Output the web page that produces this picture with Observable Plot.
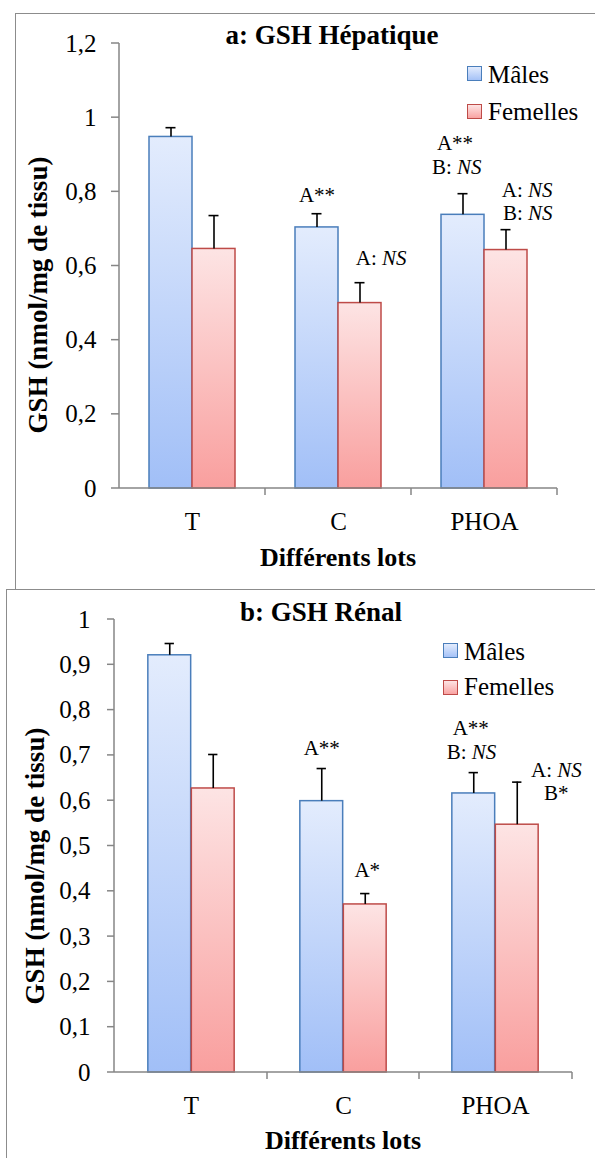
<!DOCTYPE html>
<html>
<head>
<meta charset="utf-8">
<script src="https://cdn.jsdelivr.net/npm/d3@7"></script>
<script src="https://cdn.jsdelivr.net/npm/@observablehq/plot@0.6"></script>
<style>
  html, body { margin: 0; padding: 0; background: white; overflow: hidden; }
  #page { position: relative; width: 595px; height: 1158px; overflow: hidden; font-family: "Liberation Serif", "Times New Roman", serif; color: black; }
  .frame { position: absolute; border: 1.5px solid #8c8c8c; box-sizing: border-box; }
  .abs { position: absolute; white-space: nowrap; line-height: 1; font-family: "Liberation Serif", serif; }
  .title { font-weight: bold; font-size: 27px; transform: translateX(-50%); }
  .xtitle { font-weight: bold; font-size: 26px; transform: translateX(-50%); }
  .ytitle { font-weight: bold; font-size: 27px; transform: translate(-50%, -50%) rotate(-90deg); }
  .leg { font-size: 25px; }
  .sw { position: absolute; width: 13px; height: 13px; }
  .sw.m { background: linear-gradient(#e3ecfd, #a5c2f7); border: 1.5px solid #4a7ebb; }
  .sw.f { background: linear-gradient(#fde4e4, #f9a3a2); border: 1.5px solid #be4b48; }
  .chart { position: absolute; left: 0; }
</style>
</head>
<body>
<div id="page">
  <div class="frame" style="left:15px; top:13px; width:600px; height:577px;"></div>
  <div class="frame" style="left:6px; top:589px; width:610px; height:600px;"></div>
  <div id="chartA" class="chart" style="top:0px;"></div>
  <div id="chartB" class="chart" style="top:590px;"></div>
</div>
<script>
// ---------- data ----------
const lots = ["T", "C", "PHOA"];
const sexes = ["Mâles", "Femelles"];

// a: GSH hépatique (nmol/mg de tissu)
const hepMales = [0.948, 0.704, 0.738];
const hepMalesSEM = [0.025, 0.037, 0.057];
const hepFemelles = [0.646, 0.500, 0.643];
const hepFemellesSEM = [0.090, 0.055, 0.055];
const hepTicks = [0, 0.2, 0.4, 0.6, 0.8, 1, 1.2];
const hepSignif = [
  ["C", "Mâles", "A**", ""],
  ["C", "Femelles", "A:", "NS"],
  ["PHOA", "Mâles", "A**", ""],
  ["PHOA", "Mâles", "B:", "NS"],
  ["PHOA", "Femelles", "A:", "NS"],
  ["PHOA", "Femelles", "B:", "NS"]
];

// b: GSH rénal (nmol/mg de tissu)
const renMales = [0.921, 0.599, 0.616];
const renMalesSEM = [0.026, 0.072, 0.046];
const renFemelles = [0.627, 0.371, 0.547];
const renFemellesSEM = [0.075, 0.024, 0.094];
const renTicks = [0, 0.1, 0.2, 0.3, 0.4, 0.5, 0.6, 0.7, 0.8, 0.9, 1];
const renSignif = [
  ["C", "Mâles", "A**", ""],
  ["C", "Femelles", "A*", ""],
  ["PHOA", "Mâles", "A**", ""],
  ["PHOA", "Mâles", "B:", "NS"],
  ["PHOA", "Femelles", "A:", "NS"],
  ["PHOA", "Femelles", "B*", ""]
];

const titles = ["a: GSH Hépatique", "b: GSH Rénal"];
const yTitle = "GSH (nmol/mg de tissu)";
const xTitle = "Différents lots";

// ---------- layout (pixels) ----------
const FONT = '"Liberation Serif", "Times New Roman", serif';
const layoutA = {width: 595, height: 588, ml: 119, mr: 38, mt: 43, mb: 100, barW: 43, tick: 8, pad: 15,
  place: [[0, -18], [21, -24], [-8, -50], [-7, -26], [21, -39], [21, -16]]};
const layoutB = {width: 595, height: 568, ml: 114, mr: 23, mt: 29, mb: 86, barW: 43.5, tick: 7, pad: 17,
  place: [[0, -20], [2, -23], [-3, -44], [-3, -20], [39, -12], [39, 11]]};

const fmt = d => String(d).replace(".", ",");

function rowsOf(males, malesSEM, femelles, femellesSEM) {
  const m = lots.map((lot, i) => ({lot, sexe: sexes[0], value: males[i], sem: malesSEM[i]}));
  const f = lots.map((lot, i) => ({lot, sexe: sexes[1], value: femelles[i], sem: femellesSEM[i]}));
  return [m, f];
}

function chart(id, males, malesSEM, femelles, femellesSEM, ticks, signif, L) {
  const [mRows, fRows] = rowsOf(males, malesSEM, femelles, femellesSEM);
  const all = mRows.concat(fRows);
  const bw = (L.width - L.ml - L.mr) / lots.length;
  const outer = (bw - 2 * L.barW) / 2;
  const half = L.barW / 2;
  const cap = 5;
  const axisColor = "#868686";

  const defs = () => {
    const g = d3.create("svg:defs");
    const mk = (gid, c0, c1) => {
      const lg = g.append("linearGradient").attr("id", gid).attr("x1", 0).attr("y1", 0).attr("x2", 0).attr("y2", 1);
      lg.append("stop").attr("offset", "0%").attr("stop-color", c0);
      lg.append("stop").attr("offset", "100%").attr("stop-color", c1);
    };
    mk(id + "-m", "#e3ecfd", "#a1bff7");
    mk(id + "-f", "#fde4e4", "#f99f9e");
    return g.node();
  };

  const axes = (index, scales, values, dims) => {
    const {x, y} = scales;
    const g = d3.create("svg:g").attr("stroke", axisColor).attr("stroke-width", 1.5).attr("fill", "none");
    const xl = dims.marginLeft, xr = dims.width - dims.marginRight;
    const y0 = y(0), yTop = y(d3.max(ticks));
    g.append("line").attr("x1", xl).attr("x2", xl).attr("y1", yTop).attr("y2", y0);
    for (const t of ticks) {
      g.append("line").attr("x1", xl - L.tick).attr("x2", xl).attr("y1", y(t)).attr("y2", y(t));
    }
    g.append("line").attr("x1", xl).attr("x2", xr).attr("y1", y0).attr("y2", y0);
    const bounds = lots.slice(1).map(l => x(l)).concat([xr]);
    for (const b of bounds) {
      g.append("line").attr("x1", b).attr("x2", b).attr("y1", y0).attr("y2", y0 + 7);
    }
    return g.node();
  };

  const top = d => d.value + d.sem;
  const marks = [
    defs,
    Plot.barY(mRows, {x: "lot", y: "value", fill: `url(#${id}-m)`, stroke: "#4a7ebb", strokeWidth: 1.5,
      insetLeft: outer, insetRight: outer + L.barW}),
    Plot.barY(fRows, {x: "lot", y: "value", fill: `url(#${id}-f)`, stroke: "#be4b48", strokeWidth: 1.5,
      insetLeft: outer + L.barW, insetRight: outer}),
    Plot.ruleX(mRows, {x: "lot", y1: "value", y2: top, dx: -half, stroke: "black", strokeWidth: 1.6}),
    Plot.ruleX(fRows, {x: "lot", y1: "value", y2: top, dx: half, stroke: "black", strokeWidth: 1.6}),
    Plot.tickY(mRows, {x: "lot", y: top, stroke: "black", strokeWidth: 1.6,
      insetLeft: bw / 2 - half - cap, insetRight: bw / 2 + half - cap}),
    Plot.tickY(fRows, {x: "lot", y: top, stroke: "black", strokeWidth: 1.6,
      insetLeft: bw / 2 + half - cap, insetRight: bw / 2 - half - cap}),
    axes
  ];

  signif.forEach(([lot, sexe, normal, italic], i) => {
    const row = all.find(r => r.lot === lot && r.sexe === sexe);
    const [adx, ady] = L.place[i];
    const cx = (sexe === sexes[0] ? -half : half) + adx;
    if (italic) {
      marks.push(Plot.text([row], {x: "lot", y: top, text: () => normal + "\u00a0", dx: cx + 1, dy: ady,
        textAnchor: "end", fontSize: 21, fill: "black"}));
      marks.push(Plot.text([row], {x: "lot", y: top, text: () => italic, dx: cx + 1, dy: ady,
        textAnchor: "start", fontSize: 21, fontStyle: "italic", fill: "black"}));
    } else {
      marks.push(Plot.text([row], {x: "lot", y: top, text: () => normal, dx: cx, dy: ady,
        fontSize: 21, fill: "black"}));
    }
  });

  return Plot.plot({
    width: L.width, height: L.height,
    marginLeft: L.ml, marginRight: L.mr, marginTop: L.mt, marginBottom: L.mb,
    style: {fontFamily: FONT, fontSize: "25px", color: "black", background: "transparent", overflow: "visible"},
    x: {domain: lots, padding: 0, tickSize: 0, tickPadding: 24, label: null},
    y: {domain: [0, d3.max(ticks)], ticks: ticks, tickSize: 0, tickPadding: L.tick + L.pad, tickFormat: fmt, label: null},
    marks
  });
}

document.getElementById("chartA").appendChild(
  chart("ga", hepMales, hepMalesSEM, hepFemelles, hepFemellesSEM, hepTicks, hepSignif, layoutA));
document.getElementById("chartB").appendChild(
  chart("gb", renMales, renMalesSEM, renFemelles, renFemellesSEM, renTicks, renSignif, layoutB));

// ---------- titles, axis titles, legends (HTML) ----------
const page = document.getElementById("page");
function addText(cls, txt, style) {
  const d = document.createElement("div");
  d.className = "abs " + cls;
  d.textContent = txt;
  Object.assign(d.style, style);
  page.appendChild(d);
  return d;
}
function addSwatch(cls, left, topPx) {
  const s = document.createElement("div");
  s.className = "sw " + cls;
  s.style.left = left + "px";
  s.style.top = topPx + "px";
  page.appendChild(s);
}
// chart a
addText("title", titles[0], {left: "332px", top: "22px"});
addText("xtitle", xTitle, {left: "338px", top: "545px"});
addText("ytitle", yTitle, {left: "38px", top: "295px"});
addSwatch("m", 467, 66);
addText("leg", sexes[0], {left: "488px", top: "62px"});
addSwatch("f", 467, 104);
addText("leg", sexes[1], {left: "488px", top: "99px"});
// chart b
addText("title", titles[1], {left: "321px", top: "599px"});
addText("xtitle", xTitle, {left: "343px", top: "1128px"});
addText("ytitle", yTitle, {left: "35px", top: "866px"});
addSwatch("m", 443, 643);
addText("leg", sexes[0], {left: "464px", top: "639px"});
addSwatch("f", 443, 680);
addText("leg", sexes[1], {left: "464px", top: "674px"});
</script>
</body>
</html>
